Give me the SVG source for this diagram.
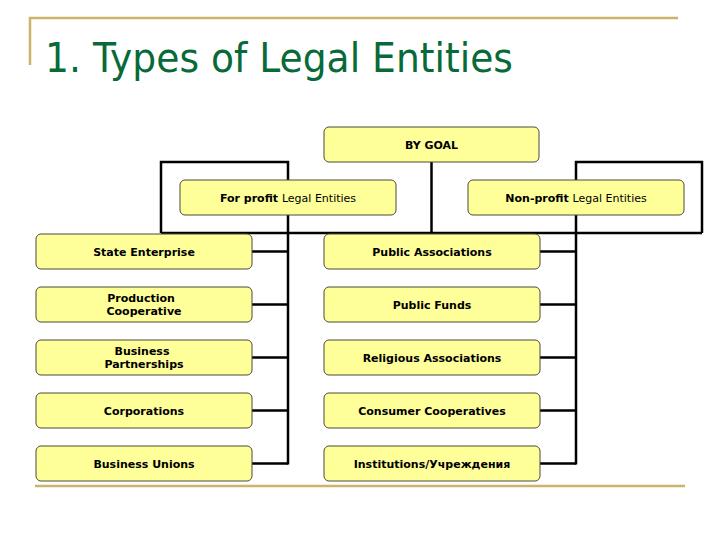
<svg xmlns="http://www.w3.org/2000/svg" width="720" height="540" viewBox="0 0 720 540">
<style>
.box{fill:#FFFF99;stroke:#4a4a3a;stroke-width:1}
.conn{fill:none;stroke:#000;stroke-width:2.5}
.gold{fill:none;stroke:#CDB46C;stroke-width:2.5}
.t{font-family:"DejaVu Sans",sans-serif;font-size:11px;font-weight:bold;text-anchor:middle;fill:#000}
.r{font-weight:normal}
.title{font-family:"DejaVu Sans",sans-serif;font-size:41px;fill:#086A38}
</style>
<rect width="720" height="540" fill="#fff"/>
<g id="frame">
<polyline class="gold" points="30,65 30,18 678,18"/>
<line class="gold" x1="35" y1="486" x2="685" y2="486"/>
</g>
<text class="title" x="45" y="72" textLength="468" lengthAdjust="spacingAndGlyphs">1. Types of Legal Entities</text>
<g id="connectors">
<line class="conn" x1="431.5" y1="162" x2="431.5" y2="233"/>
<line class="conn" x1="161" y1="233" x2="702" y2="233"/>
<polyline class="conn" points="161,233 161,162 288,162 288,464.5"/>
<polyline class="conn" points="576,464.5 576,162 702,162 702,233"/>
<path class="conn" d="M252,251.5H288M252,304.5H288M252,357.5H288M252,410.5H288M252,463.5H288"/>
<path class="conn" d="M540,251.5H576M540,304.5H576M540,357.5H576M540,410.5H576M540,463.5H576"/>
</g>
<g id="by-goal"><rect class="box" x="324" y="127" width="215" height="35" rx="5"/><text class="t" x="431.5" y="148.5">BY GOAL</text></g>
<g id="for-profit"><rect class="box" x="180" y="180" width="216" height="35" rx="5"/><text class="t" x="288" y="202">For profit <tspan class="r">Legal Entities</tspan></text></g>
<g id="non-profit"><rect class="box" x="468" y="180" width="216" height="35" rx="5"/><text class="t" x="576" y="202">Non-profit <tspan class="r">Legal Entities</tspan></text></g>
<g id="state-enterprise"><rect class="box" x="36" y="234" width="216" height="35" rx="5"/><text class="t" x="144" y="255.5">State Enterprise</text></g>
<g id="production-cooperative"><rect class="box" x="36" y="287" width="216" height="35" rx="5"/><text class="t" x="144" y="302"><tspan x="141">Production</tspan><tspan x="144" dy="13">Cooperative</tspan></text></g>
<g id="business-partnerships"><rect class="box" x="36" y="340" width="216" height="35" rx="5"/><text class="t" x="144" y="355"><tspan x="142">Business</tspan><tspan x="144" dy="13">Partnerships</tspan></text></g>
<g id="corporations"><rect class="box" x="36" y="393" width="216" height="35" rx="5"/><text class="t" x="144" y="414.5">Corporations</text></g>
<g id="business-unions"><rect class="box" x="36" y="446" width="216" height="35" rx="5"/><text class="t" x="144" y="467.5">Business Unions</text></g>
<g id="public-associations"><rect class="box" x="324" y="234" width="216" height="35" rx="5"/><text class="t" x="432" y="255.5">Public Associations</text></g>
<g id="public-funds"><rect class="box" x="324" y="287" width="216" height="35" rx="5"/><text class="t" x="432" y="308.5">Public Funds</text></g>
<g id="religious-associations"><rect class="box" x="324" y="340" width="216" height="35" rx="5"/><text class="t" x="432" y="361.5">Religious Associations</text></g>
<g id="consumer-cooperatives"><rect class="box" x="324" y="393" width="216" height="35" rx="5"/><text class="t" x="432" y="414.5">Consumer Cooperatives</text></g>
<g id="institutions"><rect class="box" x="324" y="446" width="216" height="35" rx="5"/><text class="t" x="432" y="467.5">Institutions/Учреждения</text></g>
</svg>
